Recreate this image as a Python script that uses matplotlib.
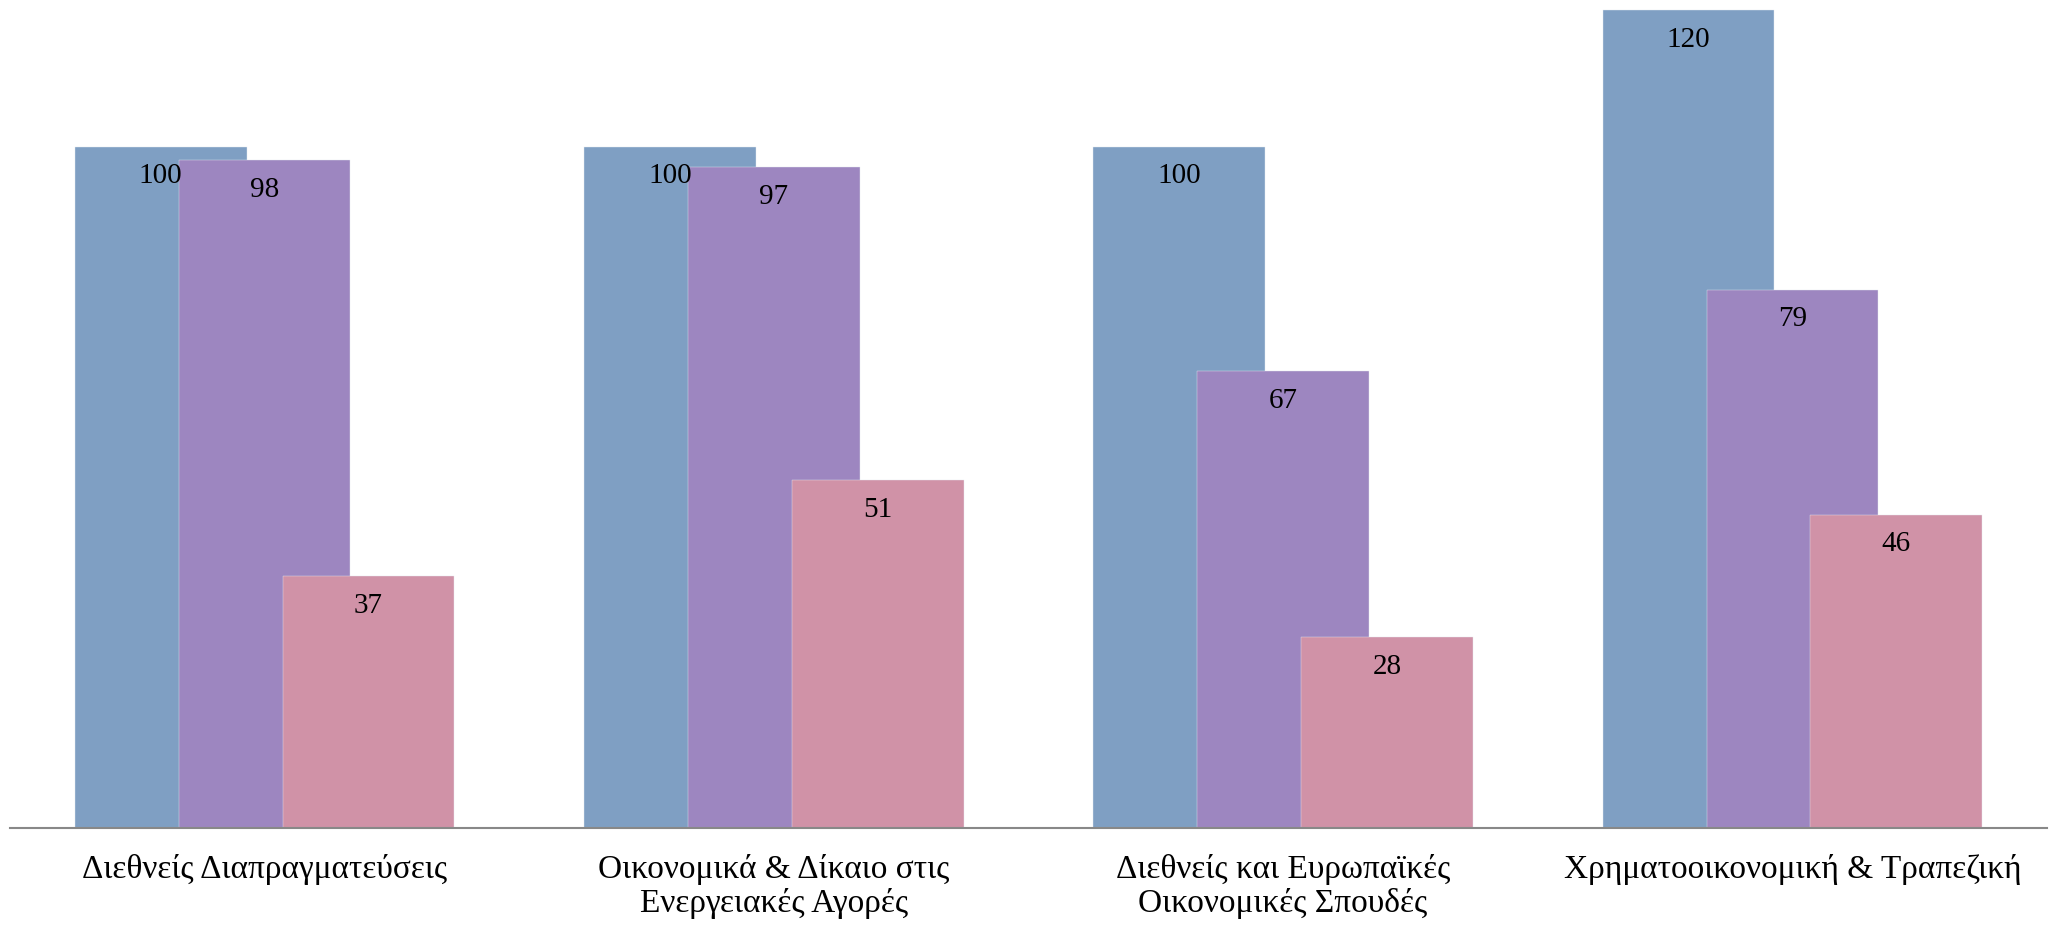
import matplotlib.pyplot as plt
import numpy as np

categories = [
    "Διεθνείς Διαπραγματεύσεις",
    "Οικονομικά & Δίκαιο στις\nΕνεργειακές Αγορές",
    "Διεθνείς και Ευρωπαϊκές\nΟικονομικές Σπουδές",
    "Χρηματοοικονομική & Τραπεζική",
]
series_a = [100, 100, 100, 120]
series_b = [98, 97, 67, 79]
series_c = [37, 51, 28, 46]
colors = ["#7F9FC3", "#9D86C0", "#D092A7"]

plt.rcParams["font.family"] = ["Liberation Serif", "DejaVu Serif"]

fig = plt.figure(figsize=(20.6, 9.26), dpi=100)
ax = fig.add_axes([10 / 2060, 98 / 926, 2037 / 2060, 828 / 926])

x = np.arange(len(categories))
offset = 0.204
width = 0.337

for i, (vals, col) in enumerate(zip([series_a, series_b, series_c], colors)):
    pos = x + (i - 1) * offset
    ax.bar(pos, vals, width=width, color=col, edgecolor="#e4e8f0", linewidth=0.3, zorder=2 + i)
    for p, v in zip(pos, vals):
        ax.annotate(str(v), (p, v), xytext=(0, -21.5), textcoords="offset points",
                    ha="center", va="center", fontsize=21, zorder=10)

ax.set_xlim(-0.5, 3.5)
ax.set_ylim(0, 121.5)
ax.set_xticks(x)
ax.set_xticklabels(categories, fontsize=24, linespacing=1.12, va="top")
ax.tick_params(axis="x", length=0, pad=19)
ax.set_yticks([])
for s in ["top", "right", "left"]:
    ax.spines[s].set_visible(False)
ax.spines["bottom"].set_color("#888888")
ax.spines["bottom"].set_linewidth(1.5)
ax.spines["bottom"].set_zorder(20)

fig.savefig("out.png", dpi=100, facecolor="white")
